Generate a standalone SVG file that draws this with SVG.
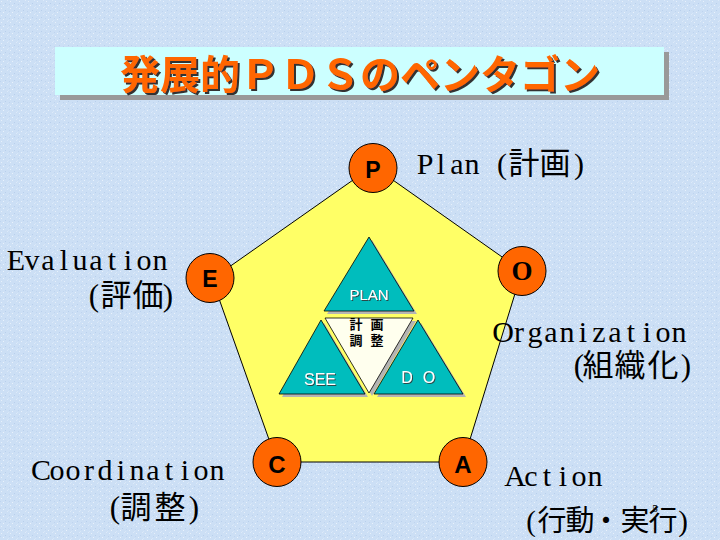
<svg xmlns="http://www.w3.org/2000/svg" width="720" height="540" viewBox="0 0 720 540">
  <defs>
    <pattern id="tex" width="9" height="7" patternUnits="userSpaceOnUse">
      <rect width="9" height="7" fill="#CCDFF5"/>
      <rect x="1" y="1" width="1" height="1" fill="#E6F0FB"/>
      <rect x="5" y="3" width="1" height="1" fill="#B8CFEC"/>
      <rect x="7" y="0" width="1" height="1" fill="#DDEAF9"/>
      <rect x="3" y="5" width="1" height="1" fill="#E9F2FC"/>
      <rect x="0" y="4" width="1" height="1" fill="#BFD4EF"/>
      <rect x="8" y="6" width="1" height="1" fill="#D8E7F8"/>
    </pattern>
    <filter id="tshadow" x="-5%" y="-20%" width="110%" height="140%">
      <feFlood flood-color="#333333"/>
      <feComposite in2="SourceAlpha" operator="in"/>
      <feOffset dx="2" dy="2" result="s"/>
      <feMerge><feMergeNode in="s"/><feMergeNode in="SourceGraphic"/></feMerge>
    </filter>
    <filter id="wshadow" x="-20%" y="-30%" width="140%" height="160%">
      <feFlood flood-color="#2A4A4A"/>
      <feComposite in2="SourceAlpha" operator="in"/>
      <feOffset dx="1" dy="1" result="s"/>
      <feMerge><feMergeNode in="s"/><feMergeNode in="SourceGraphic"/></feMerge>
    </filter>
  </defs>
  <style>
    .lbl { font-family: "Liberation Serif", "Noto Sans CJK JP", serif; font-size: 30px; fill: #000; text-anchor: middle; }
    .cjk { font-family: "Liberation Serif", "Noto Sans CJK JP", serif; font-size: 31px; fill: #000; text-anchor: middle; }
    .node { fill: #FF6600; stroke: #000; stroke-width: 1; }
    .nlet { font-family: "Liberation Sans", Arial, sans-serif; font-weight: bold; font-size: 23px; fill: #000; text-anchor: middle; }
    .tri { fill: #00BDBD; stroke: #000; stroke-width: 0.8; }
    .shd { fill: #B4B4B4; }
    .tw { font-family: "Liberation Sans", Arial, sans-serif; font-size: 15px; fill: #FFFFFF; text-anchor: middle; filter: url(#wshadow); }
    .kj { font-family: "Noto Sans CJK JP", sans-serif; font-weight: bold; font-size: 13px; fill: #000; text-anchor: middle; }
    .title { font-family: "Noto Sans CJK JP", sans-serif; font-weight: bold; font-size: 40px; text-anchor: middle; fill: #FF6600; filter: url(#tshadow); }
  </style>

  <rect width="720" height="540" fill="url(#tex)"/>

  <g id="title">
    <rect x="60" y="52" width="609" height="48" fill="#999999"/>
    <rect x="55" y="47" width="609" height="48" fill="#CCFFFF"/>
    <text class="title" x="360" y="89">発展的ＰＤＳのペンタゴン</text>
  </g>

  <g id="connectors">
    <polygon id="pentagon" points="373,166 522,271 463,462 277,462 212,279" fill="#FFFF66" stroke="#000" stroke-width="1"/>
  </g>

  <g id="core">
    <polygon class="shd" points="372,240 327,314 417,314"/>
    <polygon class="shd" points="328,321 416,321 372,396"/>
    <polygon class="shd" points="324,323 282,397 368,397"/>
    <polygon class="shd" points="421,323 377,397 466,397"/>
    <polygon class="tri" points="369,237 324,311 414,311"/>
    <polygon points="325,318 413,318 369,393" fill="#FFFFEE" stroke="#000" stroke-width="0.8"/>
    <polygon class="tri" points="321,320 279,394 365,394"/>
    <polygon class="tri" points="418,320 374,394 463,394"/>
    <text class="tw" x="369" y="300">PLAN</text>
    <text class="tw" x="320" y="385" style="font-size:16px">SEE</text>
    <text class="tw" x="407 418 429" y="383" style="font-size:16px">D O</text>
    <text class="kj"><tspan x="356 366 377" y="329">計 画</tspan><tspan x="356 366 377" y="345">調 整</tspan></text>
  </g>

  <g id="node-P">
    <ellipse class="node" cx="373" cy="168" rx="24" ry="24.5"/>
    <text class="nlet" x="373" y="178">P</text>
  </g>
  <g id="node-O">
    <ellipse class="node" cx="522" cy="271" rx="24" ry="24.5"/>
    <text x="522" y="280" style="font-family:'Liberation Serif',serif;font-weight:bold;font-size:27px;text-anchor:middle;fill:#000">O</text>
  </g>
  <g id="node-A">
    <ellipse class="node" cx="463" cy="462" rx="24" ry="24.5"/>
    <text class="nlet" x="463" y="473" style="font-size:24px">A</text>
  </g>
  <g id="node-C">
    <ellipse class="node" cx="277" cy="462" rx="24" ry="24.5"/>
    <text class="nlet" x="277" y="473" style="font-size:24px">C</text>
  </g>
  <g id="node-E">
    <ellipse class="node" cx="210" cy="278" rx="24" ry="24.5"/>
    <text class="nlet" x="210" y="287">E</text>
  </g>

  <g id="labels">
    <text class="lbl" x="425 441 457 472 488 502 524 555 579" y="174">Plan (<tspan style="font-size:31px">計画</tspan>)</text>
    <text class="lbl" x="16 32 48 64 80 96 112 128 144 160" y="270">Evaluation</text>
    <text class="cjk" x="94 116 148 168" y="306">(評価)</text>
    <text class="lbl" x="503 519 535 551 567 583 599 615 631 647 663 679" y="342">Organization</text>
    <text class="cjk" x="579 598 630 663 686" y="376">(組織化)</text>
    <text class="lbl" x="41 57 73 89 105 121 137 153 169 185 201 217" y="480">Coordination</text>
    <text class="cjk" x="115 136 170 194" y="518">(調整)</text>
    <text class="lbl" x="515 531 547 563 579 595" y="486">Action</text>
    <text class="cjk" x="531 552 580 606 635 663 683" y="531" style="font-size:29px">(行動・実行)</text>
    <text x="655" y="512" style="font-family:'Liberation Serif',serif;font-size:11px;fill:#000;text-anchor:middle">5</text>
  </g>
</svg>
